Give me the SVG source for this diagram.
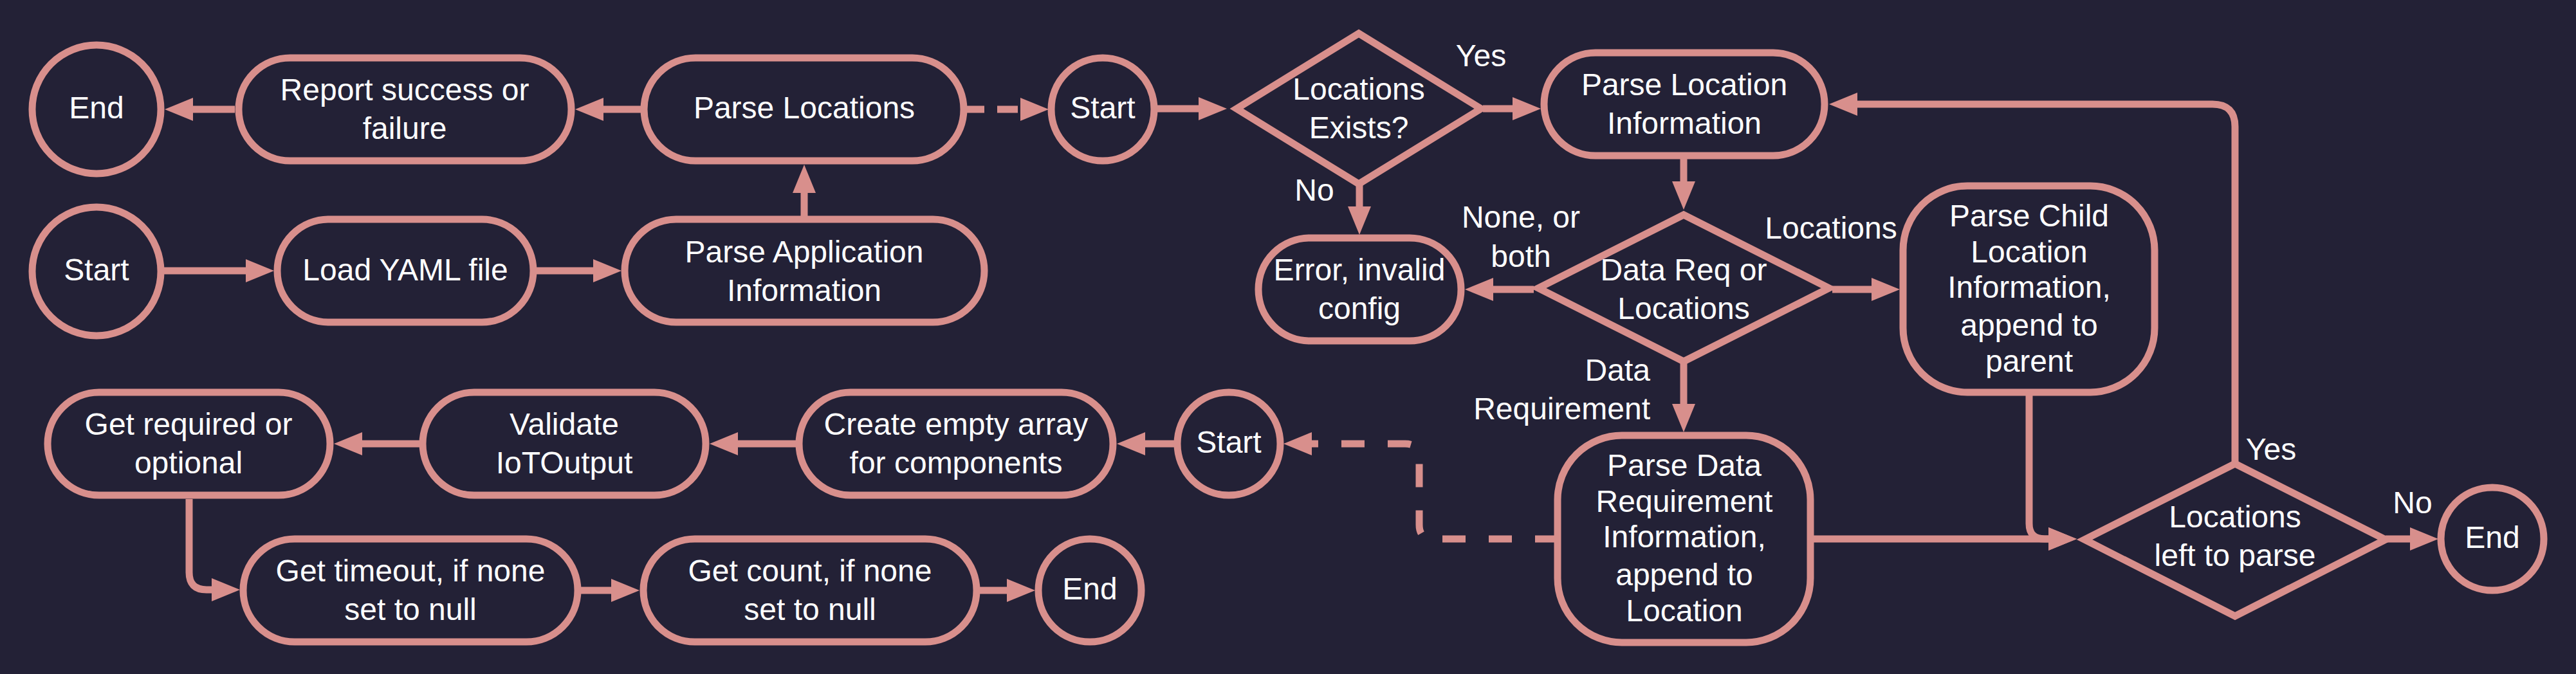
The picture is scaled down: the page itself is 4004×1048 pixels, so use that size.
<svg xmlns="http://www.w3.org/2000/svg" width="4004" height="1048" viewBox="0 0 4004 1048">
<style>
.bg{fill:#232136}
.n{fill:#232136;stroke:#d88f8c;stroke-width:11}
.d{fill:#232136;stroke:#d88f8c;stroke-width:11;stroke-linejoin:miter}
.t{font-family:"Liberation Sans",Arial,sans-serif;font-size:48px;fill:#ffffff;text-anchor:middle}
.l{font-family:"Liberation Sans",Arial,sans-serif;font-size:48px;fill:#ffffff;text-anchor:middle}
.c{fill:none;stroke:#d88f8c;stroke-width:11;marker-end:url(#ah)}
.dash{stroke-dasharray:36 36}
</style>
<defs>
<marker id="ah" markerUnits="userSpaceOnUse" markerWidth="46" markerHeight="36" refX="1" refY="18" orient="auto">
<path d="M0,0 L44,18 L0,36 z" fill="#d88f8c"/>
</marker>
</defs>
<rect class="bg" x="0" y="0" width="4004" height="1048"/>

<g id="connectors">
<path class="c" d="M255,421 L383,421"/>
<path class="c" d="M834,421 L923,421"/>
<path class="c" d="M1250,336 L1250,299"/>
<path class="c" d="M996,170 L937,170"/>
<path class="c" d="M365,170 L299,170"/>
<path class="c" d="M1498,170 L1587,170" style="stroke-dasharray:32 20"/>
<path class="c" d="M1794,169 L1864,169"/>
<path class="c" d="M2305,169 L2352,169"/>
<path class="c" d="M2113,285 L2113,322"/>
<path class="c" d="M2617,247 L2617,283"/>
<path class="c" d="M2384,450 L2320,450"/>
<path class="c" d="M2848,450 L2910,450"/>
<path class="c" d="M2617,558 L2617,629"/>
<path class="c dash" d="M2422,838 L2228,838 Q2206,838 2206,816 L2206,712 Q2206,690 2184,690 L2038,690"/>
<path class="c" d="M2819,838 L3185,838"/>
<path class="c" d="M3154,615 L3154,814 Q3154,838 3178,838 L3185,838"/>
<path class="c" d="M3474,721 L3474,197 Q3474,162 3439,162 L2886,162"/>
<path class="c" d="M3708,838 L3747,838"/>
<path class="c" d="M1830,690 L1779,690"/>
<path class="c" d="M1237,690 L1146,690"/>
<path class="c" d="M652,690 L562,690"/>
<path class="c" d="M294,776 L294,890 Q294,917 321,917 L330,917"/>
<path class="c" d="M903,918 L951,918"/>
<path class="c" d="M1523,918 L1566,918"/>
</g>

<g id="edge-labels">
<text class="l" x="2302" y="103">Yes</text>
<text class="l" x="2043" y="312">No</text>
<text class="l" x="2364" y="354">None, or</text>
<text class="l" x="2364" y="415">both</text>
<text class="l" x="2846" y="371">Locations</text>
<text class="l" x="2565" y="592" style="text-anchor:end">Data</text>
<text class="l" x="2565" y="652" style="text-anchor:end">Requirement</text>
<text class="l" x="3530" y="715">Yes</text>
<text class="l" x="3750" y="798">No</text>
</g>

<g id="end1"><circle class="n" cx="150" cy="170" r="100"/><text class="t" x="150" y="184">End</text></g>
<g id="report"><rect class="n" x="371" y="90" width="517" height="160" rx="80"/><text class="t" x="629" y="156">Report success or</text><text class="t" x="629" y="216">failure</text></g>
<g id="parse-locations"><rect class="n" x="1001" y="90" width="497" height="160" rx="80"/><text class="t" x="1250" y="184">Parse Locations</text></g>
<g id="start1"><circle class="n" cx="1714" cy="170" r="80"/><text class="t" x="1714" y="184">Start</text></g>

<g id="start2"><circle class="n" cx="150" cy="422" r="100"/><text class="t" x="150" y="436">Start</text></g>
<g id="load-yaml"><rect class="n" x="431" y="341" width="398" height="160" rx="80"/><text class="t" x="630" y="436">Load YAML file</text></g>
<g id="parse-app"><rect class="n" x="971" y="341" width="559" height="160" rx="80"/><text class="t" x="1250" y="408">Parse Application</text><text class="t" x="1250" y="468">Information</text></g>

<g id="loc-exists"><polygon class="d" points="2112,52 2302,169 2112,286 1922,169"/><text class="t" x="2112" y="155">Locations</text><text class="t" x="2112" y="215">Exists?</text></g>
<g id="parse-loc-info"><rect class="n" x="2400" y="82" width="436" height="160" rx="80"/><text class="t" x="2618" y="148">Parse Location</text><text class="t" x="2618" y="208">Information</text></g>
<g id="error"><rect class="n" x="1956" y="370" width="315" height="160" rx="80"/><text class="t" x="2113" y="436">Error, invalid</text><text class="t" x="2113" y="496">config</text></g>
<g id="data-req"><polygon class="d" points="2617,334 2843,448 2617,562 2391,448"/><text class="t" x="2617" y="436">Data Req or</text><text class="t" x="2617" y="496">Locations</text></g>
<g id="parse-child"><rect class="n" x="2958" y="289" width="391" height="321" rx="100"/><text class="t" x="3154" y="352">Parse Child</text><text class="t" x="3154" y="408">Location</text><text class="t" x="3154" y="463">Information,</text><text class="t" x="3154" y="522">append to</text><text class="t" x="3154" y="578">parent</text></g>
<g id="parse-data"><rect class="n" x="2421" y="677" width="393" height="322" rx="100"/><text class="t" x="2618" y="740">Parse Data</text><text class="t" x="2618" y="796">Requirement</text><text class="t" x="2618" y="851">Information,</text><text class="t" x="2618" y="910">append to</text><text class="t" x="2618" y="966">Location</text></g>
<g id="locs-left"><polygon class="d" points="3474,721 3708,839 3474,958 3240,839"/><text class="t" x="3474" y="820">Locations</text><text class="t" x="3474" y="880">left to parse</text></g>
<g id="end3"><circle class="n" cx="3874" cy="838" r="80"/><text class="t" x="3874" y="852">End</text></g>

<g id="get-required"><rect class="n" x="74" y="610" width="439" height="160" rx="80"/><text class="t" x="293" y="676">Get required or</text><text class="t" x="293" y="736">optional</text></g>
<g id="validate"><rect class="n" x="657" y="610" width="440" height="160" rx="80"/><text class="t" x="877" y="676">Validate</text><text class="t" x="877" y="736">IoTOutput</text></g>
<g id="create-array"><rect class="n" x="1242" y="610" width="488" height="160" rx="80"/><text class="t" x="1486" y="676">Create empty array</text><text class="t" x="1486" y="736">for components</text></g>
<g id="start3"><circle class="n" cx="1910" cy="690" r="80"/><text class="t" x="1910" y="704">Start</text></g>
<g id="get-timeout"><rect class="n" x="378" y="838" width="520" height="160" rx="80"/><text class="t" x="638" y="904">Get timeout, if none</text><text class="t" x="638" y="964">set to null</text></g>
<g id="get-count"><rect class="n" x="1000" y="838" width="518" height="160" rx="80"/><text class="t" x="1259" y="904">Get count, if none</text><text class="t" x="1259" y="964">set to null</text></g>
<g id="end4"><circle class="n" cx="1694" cy="918" r="80"/><text class="t" x="1694" y="932">End</text></g>
</svg>
